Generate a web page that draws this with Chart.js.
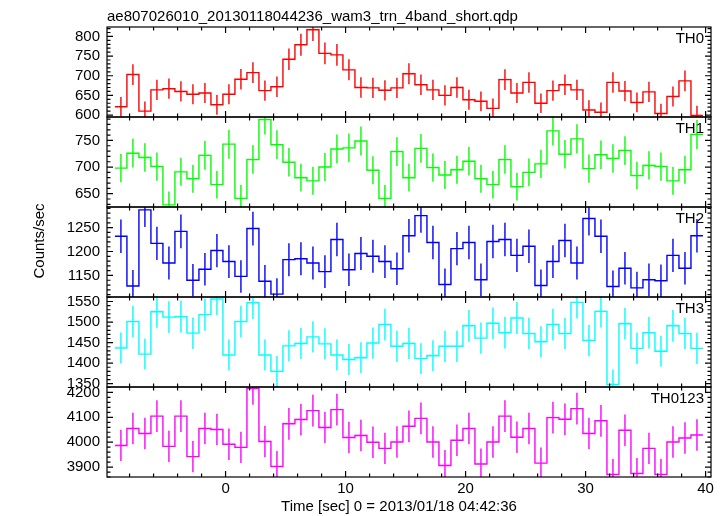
<!DOCTYPE html>
<html>
<head>
<meta charset="utf-8">
<title>ae807026010 WAM light curve</title>
<script src="https://cdn.jsdelivr.net/npm/chart.js@4.4.1/dist/chart.umd.min.js"></script>
<style>
  html, body { margin: 0; padding: 0; background: #fff; }
</style>
</head>
<body>
<canvas id="lc" width="727" height="516"></canvas>
<script>
var plotTitle = 'ae807026010_20130118044236_wam3_trn_4band_short.qdp';
var xLabel = 'Time [sec] 0 = 2013/01/18 04:42:36';
var yLabel = 'Counts/sec';
var bandNames = ['TH0', 'TH1', 'TH2', 'TH3', 'TH0123'];
var bandColors = ['#ff0000', '#00ff00', '#0000ff', '#00ffff', '#ff00ff'];

// bin centre of the first bin and bin size, sec
var firstBin = -8.72;
var binWidth = 1.0;

// count rates per band (counts/sec)
var th0 = [621, 703, 610, 664, 667, 660, 653, 656, 626, 653, 691, 708, 662, 672, 742, 779, 817, 757, 753, 715, 670, 669, 663, 669, 705,
           677, 664, 650, 670, 639, 635, 617, 690, 656, 683, 630, 662, 677, 664, 613, 607, 683, 661, 632, 659, 604, 647, 687, 599];
var th1 = [698, 726, 718, 701, 629, 691, 678, 722, 667, 743, 641, 714, 789, 742, 709, 680, 674, 700, 734, 736, 749, 694, 641, 729, 680,
           735, 699, 685, 695, 711, 678, 667, 714, 663, 690, 706, 768, 724, 753, 697, 723, 716, 731, 684, 703, 701, 674, 695, 761];
var th2 = [1232, 1128, 1287, 1217, 1176, 1242, 1140, 1163, 1202, 1179, 1148, 1248, 1138, 1111, 1183, 1185, 1176, 1158, 1225, 1162, 1196, 1190, 1179, 1164, 1233,
           1275, 1219, 1131, 1206, 1219, 1141, 1221, 1225, 1192, 1211, 1129, 1179, 1223, 1176, 1269, 1232, 1127, 1165, 1124, 1141, 1139, 1192, 1165, 1233];
var th3 = [1437, 1501, 1422, 1525, 1512, 1513, 1473, 1518, 1556, 1420, 1501, 1547, 1420, 1380, 1442, 1448, 1464, 1447, 1420, 1409, 1413, 1449, 1494, 1441, 1448,
           1411, 1418, 1441, 1441, 1491, 1461, 1497, 1474, 1510, 1472, 1452, 1494, 1472, 1548, 1455, 1526, 1348, 1496, 1436, 1474, 1429, 1491, 1472, 1436];
var th0123 = [3987, 4055, 4035, 4105, 3983, 4105, 3942, 4055, 4051, 3992, 3979, 4216, 4003, 3902, 4074, 4091, 4127, 4059, 4131, 4019, 4027, 4000, 3975, 4001, 4064,
              4096, 4001, 3906, 4008, 4055, 3912, 4001, 4105, 4020, 4055, 3916, 4099, 4092, 4135, 4035, 4086, 3870, 4048, 3874, 3975, 3870, 4001, 4017, 4029];
var bandRates = [th0, th1, th2, th3, th0123];

// axis ranges and tick steps
var xMin = -9.88, xMax = 40.45;
var xTickStep = 10, xMinorStep = 2;
var yMin = [595, 625, 1105, 1342, 3860];
var yMax = [824, 794, 1293, 1561, 4222];
var yTickStep = [50, 50, 50, 50, 100];
var yMinorStep = [10, 10, 10, 10, 20];

var FONT = '"Liberation Sans", Arial, sans-serif';
var FONT_SIZE = 15;

var times = [];
for (var i = 0; i < th0.length; i++) times.push(firstBin + i * binWidth);

// histogram outline: bin edges at both ends, steps half way between centres
function stepPoints(rates) {
  var pts = [{x: times[0] - binWidth / 2, y: rates[0]}];
  for (var i = 0; i < rates.length; i++) pts.push({x: times[i], y: rates[i]});
  pts.push({x: times[rates.length - 1] + binWidth / 2, y: rates[rates.length - 1]});
  return pts;
}

// poisson error bars, one segment per bin (null breaks the line)
function errorPoints(rates) {
  var pts = [];
  for (var i = 0; i < rates.length; i++) {
    var err = Math.sqrt(rates[i] / binWidth);
    pts.push({x: times[i], y: rates[i] - err});
    pts.push({x: times[i], y: rates[i] + err});
    pts.push({x: times[i], y: null});
  }
  return pts;
}

function plainTick(value) { return String(value); }

var datasets = [];
var scales = {
  x: {
    type: 'linear', position: 'bottom', min: xMin, max: xMax,
    grid: {display: false, drawTicks: false}, border: {display: false},
    ticks: {stepSize: xTickStep, includeBounds: false, padding: 3, maxRotation: 0, autoSkip: false,
            color: '#000', font: {family: FONT, size: FONT_SIZE}, callback: plainTick},
    afterFit: function(scale) { scale.height = 39; }
  }
};

// stacked left axes are laid out bottom-up, so add the bottom panel first
for (var k = bandNames.length - 1; k >= 0; k--) {
  scales['y' + k] = {
    type: 'linear', position: 'left', stack: 'bands', stackWeight: 1,
    min: yMin[k], max: yMax[k],
    grid: {display: false, drawTicks: false}, border: {display: false},
    ticks: {stepSize: yTickStep[k], includeBounds: false, padding: 7, autoSkip: false,
            color: '#000', font: {family: FONT, size: FONT_SIZE}, callback: plainTick},
    afterFit: function(scale) { scale.width = 107; }
  };
}

bandNames.forEach(function(name, k) {
  datasets.push({
    label: name, data: stepPoints(bandRates[k]), yAxisID: 'y' + k, xAxisID: 'x',
    stepped: 'middle', borderColor: bandColors[k], borderWidth: 1.4,
    pointRadius: 0, fill: false, clip: 0
  });
  datasets.push({
    label: name + ' err', data: errorPoints(bandRates[k]), yAxisID: 'y' + k, xAxisID: 'x',
    borderColor: bandColors[k], borderWidth: 1.4, spanGaps: false,
    pointRadius: 0, fill: false, clip: 0
  });
});

// frames, inward ticks on all four sides, and the texts
var framePlugin = {
  id: 'qdpFrames',
  afterDraw: function(chart) {
    var ctx = chart.ctx;
    var xs = chart.scales.x;
    ctx.save();
    ctx.strokeStyle = '#000';
    ctx.fillStyle = '#000';
    ctx.lineWidth = 1.2;
    bandNames.forEach(function(name, k) {
      var ys = chart.scales['y' + k];
      var l = xs.left, r = xs.right, t = ys.top, b = ys.bottom;
      ctx.strokeRect(l, t, r - l, b - t);
      ctx.beginPath();
      var v, p, len;
      for (v = Math.ceil(xs.min / xMinorStep) * xMinorStep; v <= xs.max; v += xMinorStep) {
        p = xs.getPixelForValue(v);
        len = (v % xTickStep === 0) ? 6 : 3.5;
        ctx.moveTo(p, t); ctx.lineTo(p, t + len);
        ctx.moveTo(p, b); ctx.lineTo(p, b - len);
      }
      var ms = yMinorStep[k];
      for (v = Math.ceil(ys.min / ms) * ms; v <= ys.max; v += ms) {
        p = ys.getPixelForValue(v);
        len = (v % yTickStep[k] === 0) ? 6 : 3.5;
        ctx.moveTo(l, p); ctx.lineTo(l + len, p);
        ctx.moveTo(r, p); ctx.lineTo(r - len, p);
      }
      ctx.stroke();
      ctx.font = FONT_SIZE + 'px ' + FONT;
      ctx.textAlign = 'right';
      ctx.textBaseline = 'alphabetic';
      ctx.fillText(name, r - 7, t + 16);
    });
    ctx.font = FONT_SIZE + 'px ' + FONT;
    ctx.textAlign = 'left';
    ctx.textBaseline = 'alphabetic';
    ctx.fillText(plotTitle, 107, 21);
    ctx.textAlign = 'center';
    ctx.textBaseline = 'middle';
    ctx.fillText(xLabel, 399, 507);
    ctx.translate(40, 241);
    ctx.rotate(-Math.PI / 2);
    ctx.fillText(yLabel, 0, 0);
    ctx.restore();
  }
};

var lcChart = new Chart(document.getElementById('lc').getContext('2d'), {
  type: 'line',
  data: {datasets: datasets},
  options: {
    responsive: false,
    animation: false,
    events: [],
    layout: {padding: {left: 0, top: 27, right: 16, bottom: 0}},
    scales: scales,
    plugins: {legend: {display: false}, tooltip: {enabled: false}, title: {display: false}}
  },
  plugins: [framePlugin]
});
</script>
</body>
</html>
